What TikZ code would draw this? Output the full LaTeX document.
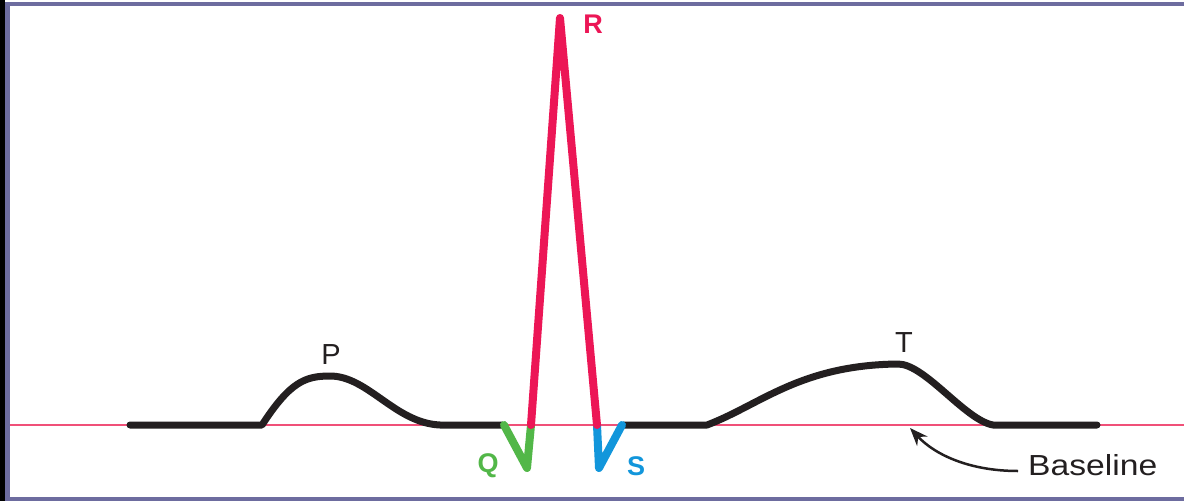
\documentclass[tikz,border=0pt]{standalone}
\usepackage{fontspec}
\usepackage{graphicx}
\newfontfamily\lab{Liberation Sans}
\usetikzlibrary{arrows.meta}
\definecolor{frameP}{HTML}{6D6C9F}
\definecolor{rwave}{HTML}{EC1656}
\definecolor{qwave}{HTML}{52B748}
\definecolor{swave}{HTML}{1296DB}
\definecolor{basel}{HTML}{F05078}
\definecolor{ink}{HTML}{231F20}
\tikzset{
  trace/.style={line width=7pt, ink, line cap=round, line join=round},
  cwave/.style={line width=8pt, line cap=round, line join=round},
  plab/.style={font=\lab\fontsize{29}{32}\selectfont, text=ink, inner sep=0pt},
  blab/.style={font=\lab\bfseries\fontsize{27}{30}\selectfont, inner sep=0pt}
}
\begin{document}
\begin{tikzpicture}[x=1pt,y=-1pt]
\useasboundingbox (0,0) rectangle (1184,501);
\fill[white] (0,0) rectangle (1184,501);
% frame
\fill[black] (0,0) rectangle (5,501);
\fill[frameP] (5,2) rectangle (1184,6);
\fill[frameP] (5,2) rectangle (10,501);
\fill[frameP] (5,497) rectangle (1184,501);
% baseline
\draw[basel, line width=1.5pt] (10,425) -- (1184,425);
% black trace: P wave
\draw[trace] (130,425) -- (262,425)
  .. controls (290,382) and (305,376) .. (330,376)
  .. controls (368,376) and (395,423) .. (440,425) -- (502,425);
% T wave
\draw[trace] (624,425) -- (707,425)
  .. controls (760,405) and (800,365) .. (898,364)
  .. controls (925,364) and (965,420) .. (993,425) -- (1097,425);
% Q
\draw[cwave, qwave] (504,425) -- (527,468) -- (531,425);
% S
\draw[cwave, swave] (597,425) -- (599,468) -- (622,425);
% R
\draw[cwave, rwave] (531,425) -- (560,18) -- (597,425);
% labels
\node[plab] (P) at (331,355) {P};
\node[plab] (T) at (904,343) {T};
\node[blab, text=rwave] (R) at (593,24) {R};
\node[blab, text=qwave] (Q) at (488,466) {Q};
\node[blab, text=swave] (S) at (636,466) {S};
\node[plab, anchor=west] (B) at (1028,465) {\scalebox{1.16}[1]{Baseline}};
\coordinate (bt) at (910,428);
\draw[line width=2.5pt, ink, -{Stealth[length=18pt, width=14pt]}] (B.west) ++(-10,6)
  .. controls (970,471) and (935,455) .. (bt);
\end{tikzpicture}
\end{document}
